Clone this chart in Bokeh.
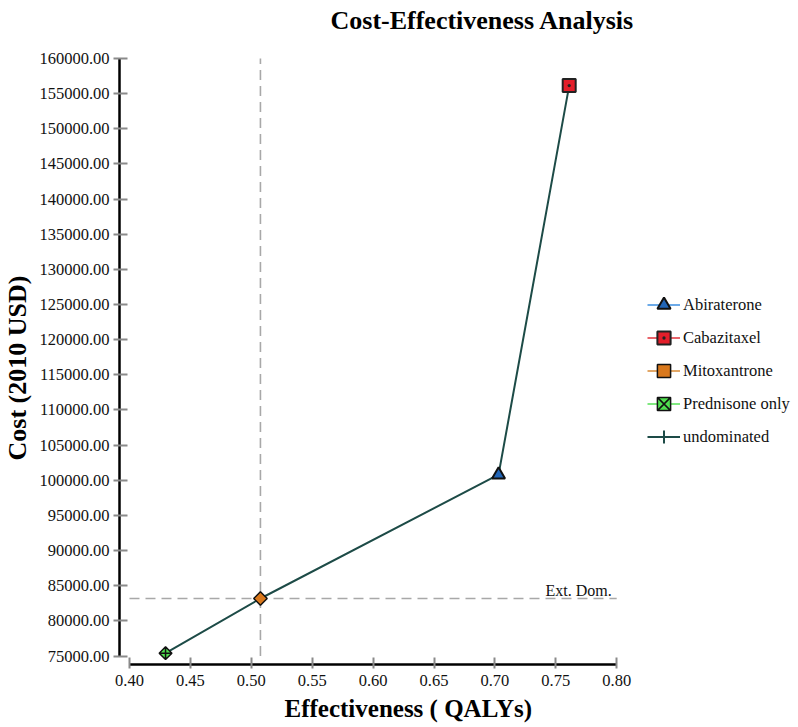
from bokeh.plotting import figure
from bokeh.models import Range1d, FixedTicker, NumeralTickFormatter, Legend, LegendItem, Title, Label
from bokeh.core.properties import value
from bokeh.embed import file_html
from bokeh.resources import INLINE

# ---- data ----
strategies = ["Prednisone only", "Mitoxantrone", "Abiraterone", "Cabazitaxel"]
effectiveness = [0.4296, 0.5075, 0.7030, 0.7610]
cost = [75400, 83180, 100800, 156150]

ext_dom_eff = [0.5075]
ext_dom_cost = [83180]
ext_dom_label = ["Ext. Dom."]

x_ticks = [0.40, 0.45, 0.50, 0.55, 0.60, 0.65, 0.70, 0.75, 0.80]
y_ticks = [75000, 80000, 85000, 90000, 95000, 100000, 105000, 110000, 115000,
           120000, 125000, 130000, 135000, 140000, 145000, 150000, 155000, 160000]

chart_title = "Cost-Effectiveness Analysis"
x_title = "Effectiveness ( QALYs)"
y_title = "Cost (2010 USD)"

NAN = [float("nan")]
FONT = "Liberation Serif"

# frame spans the full height above the x axis; axes are bounded to the tick range
p = figure(width=798, height=727, output_backend="svg", toolbar_location=None,
           x_range=Range1d(0.39179, 0.94926), y_range=Range1d(73791, 168251),
           min_border_left=119, min_border_top=0, min_border_bottom=63, min_border_right=0)
p.outline_line_color = None
p.xgrid.visible = False
p.ygrid.visible = False
p.background_fill_color = "white"
p.border_fill_color = "white"
p.title.text = ""
p.title.visible = False

# chart title (screen units relative to the frame's bottom-left corner)
p.add_layout(Label(x=211, y=644, x_units="screen", y_units="screen", text=chart_title,
                   text_font=FONT, text_font_size="26px", text_font_style="bold",
                   text_baseline="alphabetic", text_color="black"))

# axes
for ax, ticks in ((p.xaxis[0], x_ticks), (p.yaxis[0], y_ticks)):
    ax.ticker = FixedTicker(ticks=ticks)
    ax.bounds = (ticks[0], ticks[-1])
    ax.formatter = NumeralTickFormatter(format="0.00")
    ax.axis_line_color = "black"
    ax.axis_line_width = 2.5
    ax.major_tick_line_color = "#8a8a8a"
    ax.major_tick_line_width = 2
    ax.minor_tick_line_color = None
    ax.major_label_text_font = FONT
    ax.major_label_text_font_size = "16.5px"
    ax.major_label_text_color = "#111111"

p.xaxis.major_tick_in = 7
p.xaxis.major_tick_out = 4
p.xaxis.major_label_standoff = 6

p.yaxis.major_tick_in = 8
p.yaxis.major_tick_out = 6
p.yaxis.major_label_standoff = 4

ylab = Title(text=y_title, align="left", offset=204, vertical_align="top",
             text_font=FONT, text_font_size="26px", text_font_style="bold",
             text_color="black", standoff=5)
p.add_layout(ylab, "left")

xlab = Title(text=x_title, align="left", offset=165,
             text_font=FONT, text_font_size="25px", text_font_style="bold",
             text_color="black", standoff=8)
p.add_layout(xlab, "below")

# reference dashed lines through the extendedly dominated point
p.segment(x0=ext_dom_eff, y0=[y_ticks[0]], x1=ext_dom_eff, y1=[y_ticks[-1]],
          line_color="#a8a8a8", line_width=1.6, line_dash="10 6")
p.segment(x0=[x_ticks[0]], y0=ext_dom_cost, x1=[x_ticks[-1]], y1=ext_dom_cost,
          line_color="#a8a8a8", line_width=1.6, line_dash="10 6")
p.text(x=[x_ticks[-1]], y=ext_dom_cost, text=ext_dom_label, text_align="right",
       text_baseline="bottom", x_offset=-5, y_offset=0,
       text_font=value(FONT), text_font_size="16px", text_color="#111111")

# undominated frontier
r_front = p.line(effectiveness, cost, line_color="#1d4b47", line_width=2)

# markers
r_pred = p.scatter([effectiveness[0]], [cost[0]], marker="square_x", size=9, angle=45,
                   angle_units="deg", fill_color="#4fe04f", line_color="#111111", line_width=1.5)
r_mito = p.scatter([effectiveness[1]], [cost[1]], marker="square", size=9.5, angle=45,
                   angle_units="deg", fill_color="#d9781c", line_color="#111111", line_width=1.5)
r_abi = p.scatter([effectiveness[2]], [cost[2]], marker="triangle", size=13,
                  fill_color="#2266b8", line_color="#111111", line_width=2)
r_caba = p.scatter([effectiveness[3]], [cost[3]], marker="square_dot", size=13,
                   fill_color="#e31e2a", line_color="#222222", line_width=2)

# legend-only glyphs (no visible data)
l_abi = p.line(x=NAN, y=NAN, line_color="#3b8ee0", line_width=1.5)
l_caba = p.line(x=NAN, y=NAN, line_color="#e0303a", line_width=1.5)
l_mito = p.line(x=NAN, y=NAN, line_color="#d98a34", line_width=1.5)
l_pred = p.line(x=NAN, y=NAN, line_color="#55e055", line_width=1.5)
l_und = p.line(x=NAN, y=NAN, line_color="#1d4b47", line_width=2)
c_und = p.scatter(x=NAN, y=NAN, marker="cross", line_color="#1d4b47", line_width=2)

legend = Legend(items=[
    LegendItem(label=strategies[2], renderers=[l_abi, r_abi]),
    LegendItem(label=strategies[3], renderers=[l_caba, r_caba]),
    LegendItem(label=strategies[1], renderers=[l_mito, r_mito]),
    LegendItem(label=strategies[0], renderers=[l_pred, r_pred]),
    LegendItem(label="undominated", renderers=[l_und, c_und]),
], location=(528, 211))
legend.border_line_color = None
legend.background_fill_alpha = 0
legend.padding = 0
legend.margin = 0
legend.spacing = -5
legend.glyph_width = 33
legend.glyph_height = 33
legend.label_height = 28
legend.label_standoff = 3
legend.label_text_font = FONT
legend.label_text_font_size = "16.5px"
legend.label_text_color = "#111111"
p.add_layout(legend)

open("out.html", "w").write(file_html(p, INLINE))
